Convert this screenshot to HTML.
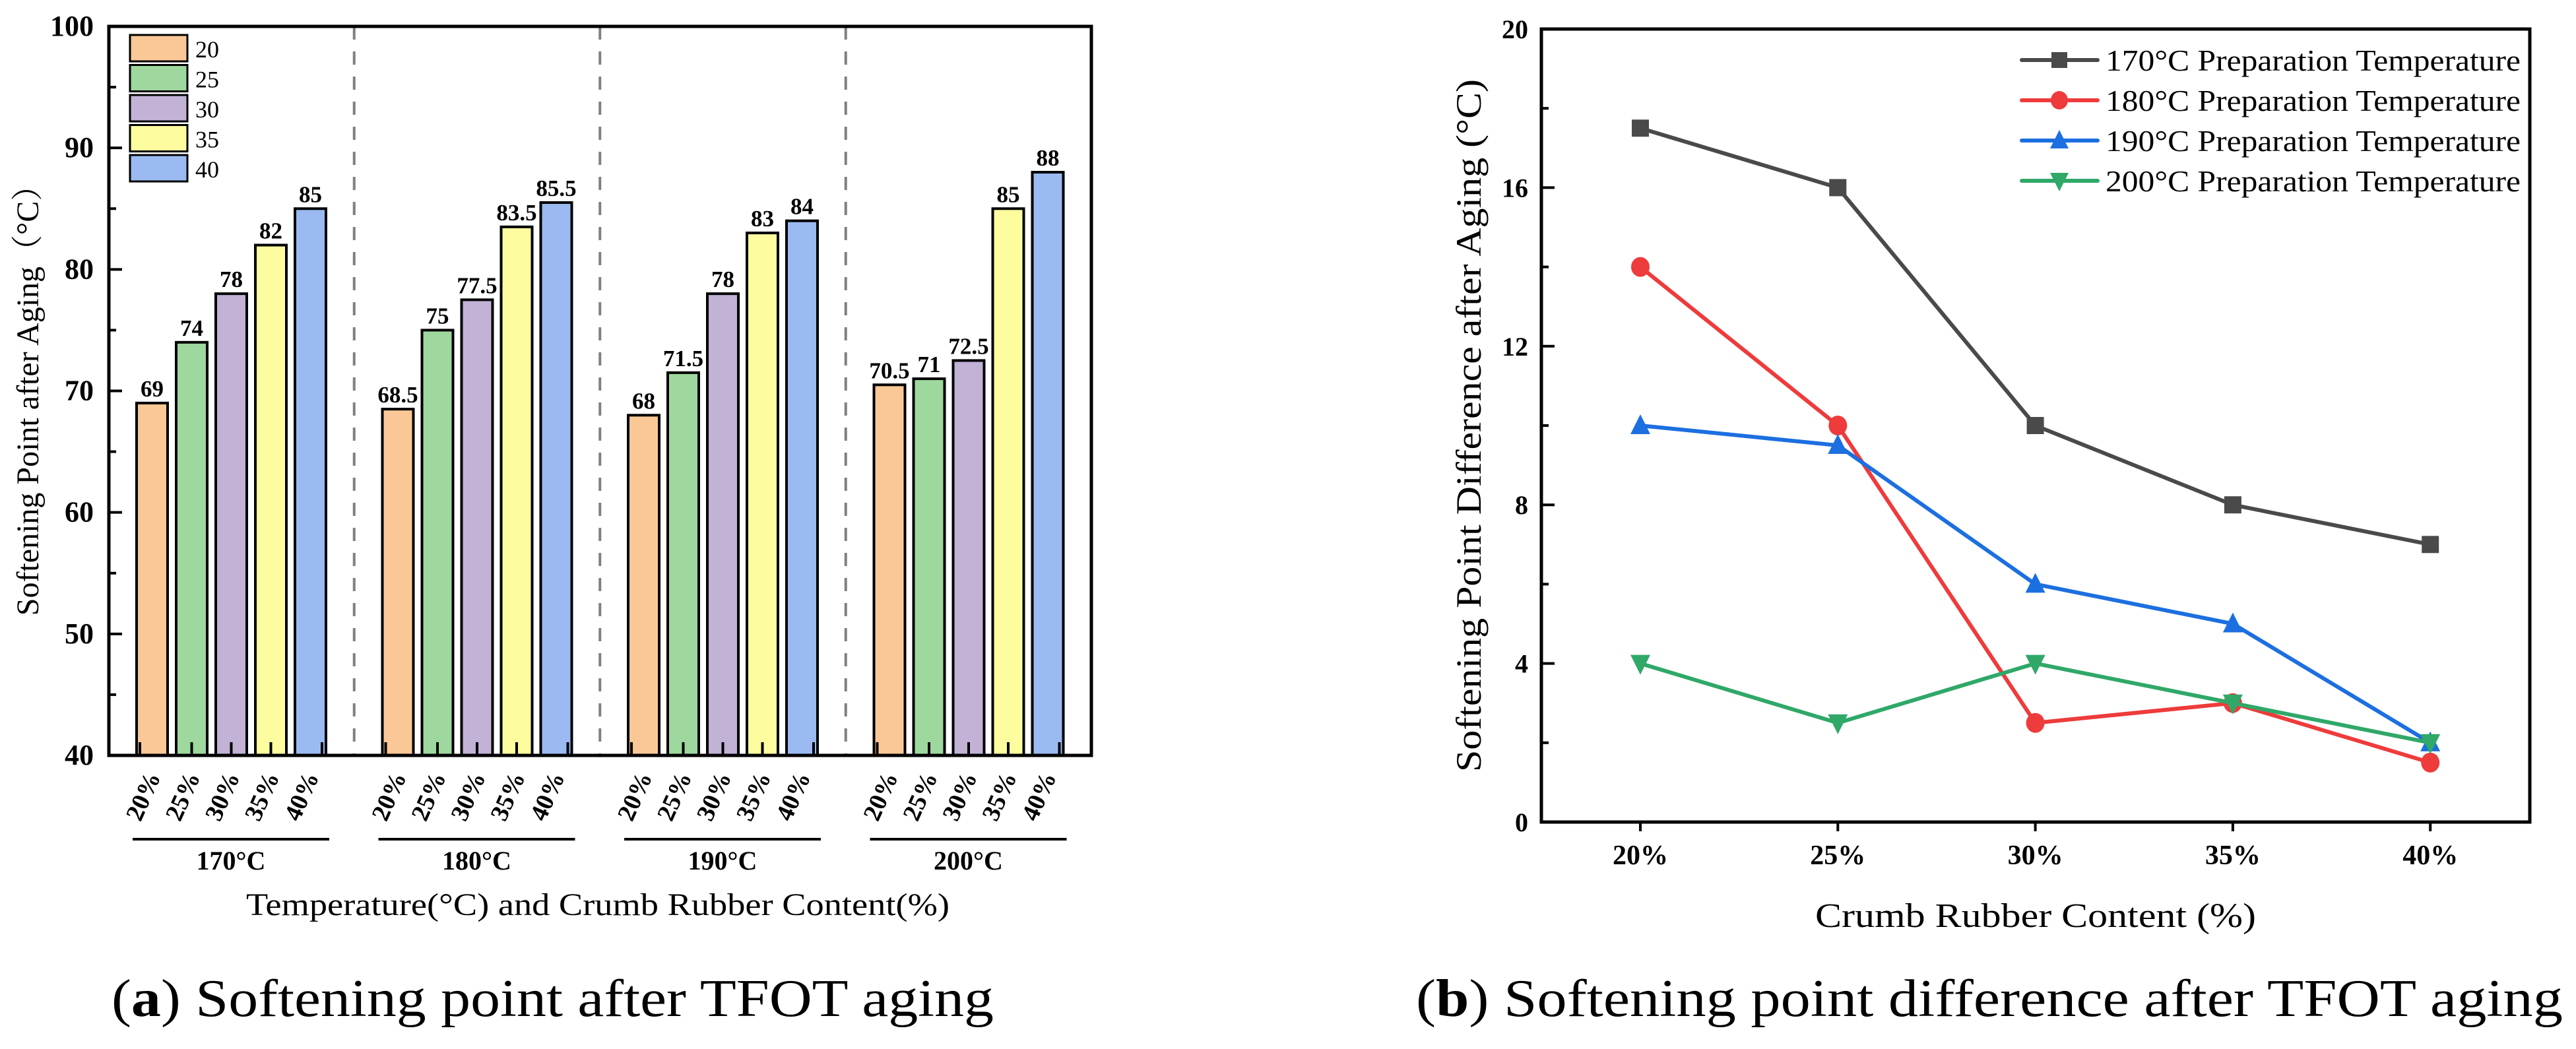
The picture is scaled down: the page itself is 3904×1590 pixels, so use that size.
<!DOCTYPE html>
<html><head><meta charset="utf-8"><style>
html,body{margin:0;padding:0;background:#fff;}
svg{display:block;font-family:"Liberation Serif",serif;}
</style></head><body>
<svg id="fig" width="3904" height="1590" viewBox="0 0 3904 1590" xmlns="http://www.w3.org/2000/svg">
<g id="left"></g>
<g id="right"></g>
<text x="169" y="1540" font-size="80" textLength="1337" lengthAdjust="spacingAndGlyphs">(<tspan font-weight="bold">a</tspan>) Softening point after TFOT aging</text>
<text x="2146" y="1540" font-size="80" textLength="1738" lengthAdjust="spacingAndGlyphs">(<tspan font-weight="bold">b</tspan>) Softening point difference after TFOT aging</text>
</svg>
<script>
const groups = ["170°C","180°C","190°C","200°C"];
const contents = ["20%","25%","30%","35%","40%"];
const legendKeys = ["20","25","30","35","40"];
const v20 = [69,68.5,68,70.5];
const v25 = [74,75,71.5,71];
const v30 = [78,77.5,78,72.5];
const v35 = [82,83.5,83,85];
const v40 = [85,85.5,84,88];
const labels20 = ["69","68.5","68","70.5"];
const labels25 = ["74","75","71.5","71"];
const labels30 = ["78","77.5","78","72.5"];
const labels35 = ["82","83.5","83","85"];
const labels40 = ["85","85.5","84","88"];
const yTicksA = [40,50,60,70,80,90,100];

const xCats = ["20%","25%","30%","35%","40%"];
const s170 = [17.5,16,10,8,7];
const s180 = [14,10,2.5,3,1.5];
const s190 = [10,9.5,6,5,2];
const s200 = [4,2.5,4,3,2];
const seriesNames = ["170°C Preparation Temperature","180°C Preparation Temperature","190°C Preparation Temperature","200°C Preparation Temperature"];
const yTicksB = [0,4,8,12,16,20];

const NS="http://www.w3.org/2000/svg";
function mk(parent,tag,attrs,text){const e=document.createElementNS(NS,tag);for(const k in attrs)e.setAttribute(k,attrs[k]);if(text!==undefined)e.textContent=text;parent.appendChild(e);return e;}

// ---------- Chart A ----------
const L=document.getElementById('left');
const aL=165,aR=1654,aT=40,aB=1145;
const yA=v=>aB-(v-40)/60*(aB-aT);
const groupStart=g=>207+g*372.5;
const barX=(g,i)=>groupStart(g)+i*60;
const barW=47;
const fills=["#fac896","#9ed89e","#c1b2d6","#fdfda0","#9bbaf1"];
const allVals=[v20,v25,v30,v35,v40];
const allLabels=[labels20,labels25,labels30,labels35,labels40];
for(let g=1;g<groups.length;g++){
  const x=(groupStart(g-1)+4*60+barW+groupStart(g))/2;
  const d=mk(L,'line',{x1:x,x2:x,y1:aT,y2:aB,stroke:'#808080','stroke-width':4,'stroke-dasharray':'20,18'});
  
  
}
for(let g=0;g<groups.length;g++){
  for(let i=0;i<5;i++){
    const v=allVals[i][g];
    const r=mk(L,'rect',{x:barX(g,i),y:yA(v),width:barW,height:aB-yA(v),fill:fills[i],stroke:'#000','stroke-width':4});
    
    
    const t=mk(L,'text',{x:barX(g,i)+barW/2,y:yA(v)-10,'font-size':35,'font-weight':'bold','text-anchor':'middle'},allLabels[i][g]);
    
    
    const tx=barX(g,i)+(i==4?barW-6:(i==0?5:barW/2));
    const tk=mk(L,'line',{x1:tx,x2:tx,y1:aB,y2:aB-20,stroke:'#000','stroke-width':4});
    
    
    const cx=barX(g,i)+barW/2;
    const xl=mk(L,'text',{x:0,y:0,'font-size':38,'font-weight':'bold','text-anchor':'middle',transform:`translate(${cx-2},${1212}) rotate(-66)`},contents[i]);
    
    
  }
  const gl=mk(L,'line',{x1:groupStart(g)-6,x2:groupStart(g)+292,y1:1272,y2:1272,stroke:'#000','stroke-width':4});
  
  
  const gt=mk(L,'text',{x:groupStart(g)+143,y:1318,'font-size':40,'font-weight':'bold','text-anchor':'middle'},groups[g]);
  
  
}
for(let v=40;v<=100;v+=5){
  const major=v%10===0;
  const tk=mk(L,'line',{x1:aL,x2:aL+(major?20:11),y1:yA(v),y2:yA(v),stroke:'#000','stroke-width':4});
  
  
}
yTicksA.forEach(v=>{
  const t=mk(L,'text',{x:142,y:yA(v)+14,'font-size':44,'font-weight':'bold','text-anchor':'end'},String(v));
  
  
});
const frA=mk(L,'rect',{x:aL,y:aT,width:aR-aL,height:aB-aT,fill:'none',stroke:'#000','stroke-width':5});


for(let i=0;i<5;i++){
  const r=mk(L,'rect',{x:197,y:53+i*45.5,width:87,height:40,fill:fills[i],stroke:'#000','stroke-width':3});
  
  
  const t=mk(L,'text',{x:296,y:87+i*45.5,'font-size':36},legendKeys[i]);
  
  
}
const ytA=mk(L,'text',{x:0,y:0,'font-size':48,'text-anchor':'middle',transform:'translate(58,595) rotate(-90)'},'Softening Point after Aging（°C）');


ytA.setAttribute('font-family','"Liberation Serif","Noto Serif CJK SC",serif');
const xtA=mk(L,'text',{x:373,y:1387,'font-size':48,textLength:1066,lengthAdjust:'spacingAndGlyphs'},'Temperature(°C) and Crumb Rubber Content(%)');



// ---------- Chart B ----------
const R=document.getElementById('right');
const bL=2336,bR=3834,bT=44,bB=1246;
const yB=v=>bB-v/20*(bB-bT);
const xB=i=>2486+i*299.3;
for(let v=0;v<=20;v+=2){
  const major=v%4===0;
  const tk=mk(R,'line',{x1:bL,x2:bL+(major?20:11),y1:yB(v),y2:yB(v),stroke:'#000','stroke-width':4});
  
  
}
yTicksB.forEach(v=>{
  const t=mk(R,'text',{x:2316,y:yB(v)+14,'font-size':40,'font-weight':'bold','text-anchor':'end'},String(v));
  
  
});
xCats.forEach((c,i)=>{
  const tk=mk(R,'line',{x1:xB(i),x2:xB(i),y1:bB,y2:bB+14,stroke:'#000','stroke-width':4});
  
  
  const t=mk(R,'text',{x:xB(i),y:1310,'font-size':42,'font-weight':'bold','text-anchor':'middle'},c);
  
  
});
const frB=mk(R,'rect',{x:bL,y:bT,width:bR-bL,height:bB-bT,fill:'none',stroke:'#000','stroke-width':5});


const allSeries=[s170,s180,s190,s200];
const colors=["#4a4a4a","#ee3b3b","#1c6fe0","#2fa868"];
const shapes=["square","circle","up","down"];
function marker(parent,shape,x,y,c,s){
  let e;
  if(shape==='square') e=mk(parent,'rect',{x:x-s,y:y-s,width:2*s,height:2*s,fill:c});
  else if(shape==='circle') e=mk(parent,'ellipse',{cx:x,cy:y,rx:s+1,ry:s+2,fill:c});
  else if(shape==='up') e=mk(parent,'polygon',{points:`${x},${y-s-4} ${x-s-2},${y+s} ${x+s+2},${y+s}`,fill:c});
  else e=mk(parent,'polygon',{points:`${x},${y+s+4} ${x-s-2},${y-s} ${x+s+2},${y-s}`,fill:c});
  return e;
}
allSeries.forEach((s,k)=>{
  const pts=s.map((v,i)=>xB(i)+','+yB(v)).join(' ');
  const pl=mk(R,'polyline',{points:pts,fill:'none',stroke:colors[k],'stroke-width':6,'stroke-linejoin':'round'});
  
  
  s.forEach((v,i)=>{
    const m=marker(R,shapes[k],xB(i),yB(v),colors[k],13);
    
    
  });
  const ly=91+k*61;
  const ll=mk(R,'line',{x1:3064,x2:3179,y1:ly,y2:ly,stroke:colors[k],'stroke-width':6,'stroke-linecap':'round'});
  
  
  const lm=marker(R,shapes[k],3121,ly,colors[k],12);
  
  
  const lt=mk(R,'text',{x:3191,y:ly+16,'font-size':46,textLength:629,lengthAdjust:'spacingAndGlyphs'},seriesNames[k]);
  
  
});
const ytB=mk(R,'text',{x:0,y:0,'font-size':54,'text-anchor':'middle',transform:'translate(2244,645) rotate(-90)'},'Softening Point Difference after Aging (°C)');


ytB.setAttribute('textLength','1050');
ytB.setAttribute('lengthAdjust','spacingAndGlyphs');
const xtB=mk(R,'text',{x:2751,y:1405,'font-size':52,textLength:668,lengthAdjust:'spacingAndGlyphs'},'Crumb Rubber Content (%)');


</script>
</body></html>
